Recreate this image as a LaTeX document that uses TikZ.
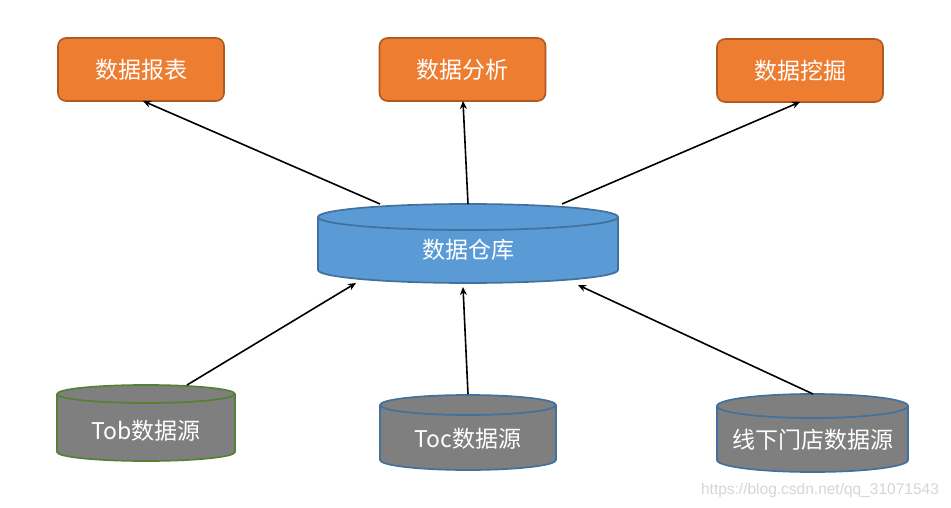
\documentclass[tikz,border=0pt]{standalone}
\usepackage{fontspec}
\setmainfont{Liberation Sans}
\newfontfamily\cjk{Noto Sans CJK SC}
\usetikzlibrary{arrows.meta}
\definecolor{orfill}{HTML}{ED7D31}
\definecolor{ordraw}{HTML}{AE5A21}
\definecolor{blfill}{HTML}{5B9BD5}
\definecolor{bldraw}{HTML}{41719C}
\definecolor{gyfill}{HTML}{7F7F7F}
\definecolor{grdraw}{HTML}{548235}
\tikzset{
  box/.style={draw=ordraw, fill=orfill, line width=1.6pt, rounded corners=8pt,
    minimum width=166pt, minimum height=63pt, text=white,
    font=\cjk\fontsize{23}{27}\selectfont, inner sep=0pt},
  lbl/.style={text=white, font=\cjk\fontsize{23}{27}\selectfont, inner sep=0pt},
  arr/.style={-{Stealth[length=8pt,width=7pt]}, line width=1.6pt, black},
}
\newcommand\mycyl[7]{%
  \pgfmathsetmacro\rx{(#2-#1)/2}%
  \filldraw[fill=#6, draw=#7, line width=1.7pt] (#1,#3) -- (#1,#4)
    arc[start angle=180,end angle=360,x radius=\rx pt,y radius=#5pt]
    -- (#2,#3)
    arc[start angle=0,end angle=180,x radius=\rx pt,y radius=#5pt] -- cycle;
  \draw[draw=#7, line width=1.7pt] (#1,#3)
    arc[start angle=180,end angle=360,x radius=\rx pt,y radius=#5pt];
}
\begin{document}
\begin{tikzpicture}[x=1pt,y=-1pt]
\useasboundingbox[fill=white] (0,0) rectangle (951,508);
% top boxes
\node[box] (rep) at (141,69.5) {数据报表};
\node[box] (ana) at (462.5,69.5) {数据分析};
\node[box] (min) at (800,70.5) {数据挖掘};
% warehouse
\mycyl{318}{618}{217}{270}{13}{blfill}{bldraw}
\node[lbl] (dw) at (468,250) {数据仓库};
% sources
\mycyl{57}{235}{394}{452}{9}{gyfill}{grdraw}
\node[lbl] (tob) at (146,431) {Tob数据源};
\mycyl{380}{556}{405}{460}{10}{gyfill}{bldraw}
\node[lbl] (toc) at (468,439) {Toc数据源};
\mycyl{717}{908}{406}{460}{12}{gyfill}{bldraw}
\node[lbl] (off) at (813,440) {线下门店数据源};
% connector ends
\coordinate (dwA) at (380,204);
\coordinate (dwB) at (468,204);
\coordinate (dwC) at (562,204);
\coordinate (dwD) at (356,283);
\coordinate (dwE) at (463,287);
\coordinate (dwF) at (578,285);
\coordinate (tobT) at (187,385);
\coordinate (tocT) at (468,394);
\coordinate (offT) at (813,394);
\coordinate (repB) at (143,101);
\coordinate (anaB) at (463,101);
\coordinate (minB) at (800,102);
\draw[arr] (dwA) -- (repB);
\draw[arr] (dwB) -- (anaB);
\draw[arr] (dwC) -- (minB);
\draw[arr] (tobT) -- (dwD);
\draw[arr] (tocT) -- (dwE);
\draw[arr] (offT) -- (dwF);
% watermark
\node[text=black!16, font=\fontsize{15.5}{17}\selectfont, inner sep=0pt] (wm) at (820,490) {https://blog.csdn.net/qq\_31071543};
\end{tikzpicture}
\end{document}
